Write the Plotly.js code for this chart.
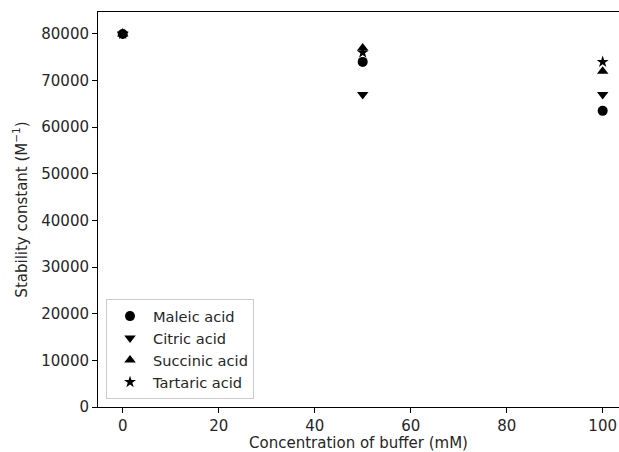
<!DOCTYPE html>
<html>
<head>
<meta charset="utf-8">
<script src="https://cdn.plot.ly/plotly-3.0.1.min.js"></script>
<style>html,body{margin:0;padding:0;background:#fff;}#chart{width:619px;height:452px;}</style>
</head>
<body>
<div id="chart"></div>
<script>
const concentration = [0, 50, 100];
const maleic = [80000, 74000, 63500];
const citric = [80000, 67000, 67000];
const succinic = [80000, 77000, 72000];
const tartaric = [80000, 76000, 74000];
const seriesNames = ["Maleic acid", "Citric acid", "Succinic acid", "Tartaric acid"];
const xTicks = [0, 20, 40, 60, 80, 100];
const yTicks = [0, 10000, 20000, 30000, 40000, 50000, 60000, 70000, 80000];

const symbols = ["circle", "triangle-down", "triangle-up", "star"];
const sizes = [10, 10, 10, 9];
const data = [maleic, citric, succinic, tartaric].map((vals, i) => ({
  x: concentration, y: vals, name: seriesNames[i], type: "scatter", mode: "markers",
  marker: {symbol: symbols[i], size: sizes[i], color: "#000", line: {width: 0}}
}));

const font = {family: "DejaVu Sans, sans-serif", size: 15, color: "#262626"};
const legendFont = {family: "DejaVu Sans, sans-serif", size: 14.6, color: "#262626"};
const layout = {
  width: 619, height: 452,
  margin: {l: 98, r: 0, t: 12, b: 45},
  paper_bgcolor: "#fff", plot_bgcolor: "#fff",
  font: font,
  showlegend: true,
  legend: {x: 0.0154, y: 0.02, xanchor: "left", yanchor: "bottom",
    bgcolor: "rgba(255,255,255,0.8)", bordercolor: "#cccccc", borderwidth: 1,
    font: legendFont, itemsizing: "trace", itemwidth: 36, tracegroupgap: 0},
  xaxis: {range: [-5.15, 103.4], tickvals: xTicks, ticktext: xTicks.map(String),
    showgrid: false, zeroline: false, showline: true, linecolor: "#000", linewidth: 1,
    mirror: true, ticks: "outside", ticklen: 5, tickcolor: "#000",
    title: {text: "Concentration of buffer (mM)", font: font, standoff: 4}},
  yaxis: {range: [0, 84700], tickvals: yTicks, ticktext: yTicks.map(String),
    showgrid: false, zeroline: false, showline: true, linecolor: "#000", linewidth: 1,
    ticks: "outside", ticklen: 5, tickcolor: "#000",
    title: {text: "Stability constant (M<sup>−1</sup>)", font: font, standoff: 10}}
};
Plotly.newPlot("chart", data, layout, {displayModeBar: false, staticPlot: true});
</script>
</body>
</html>
